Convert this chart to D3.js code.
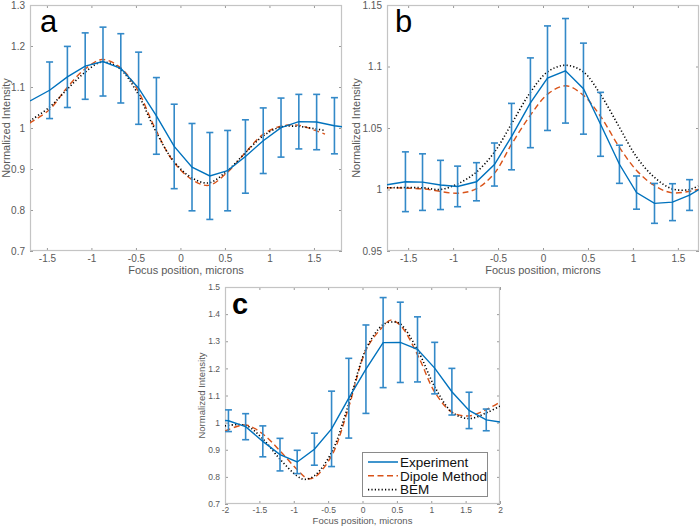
<!DOCTYPE html>
<html><head><meta charset="utf-8">
<script src="https://cdn.jsdelivr.net/npm/d3@7"></script>
<style>
body{margin:0;background:#fff;}
svg{display:block;font-family:"Liberation Sans",Arial,Helvetica,sans-serif;}
</style></head><body>
<svg id="chart" width="700" height="527"></svg>
<script>
// ---------- Panel a ----------
const aExpX   = [-1.69, -1.47, -1.27, -1.07, -0.87, -0.67, -0.47, -0.27, -0.07, 0.13, 0.33, 0.53, 0.73, 0.93, 1.13, 1.33, 1.53, 1.73, 1.815];
const aExpY   = [1.066, 1.092, 1.1245, 1.151, 1.162, 1.1455, 1.097, 1.0295, 0.955, 0.9045, 0.883, 0.896, 0.9305, 0.969, 1.001, 1.0155, 1.0145, 1.0055, 1.003];
const aExpErr = [null, 0.069, 0.0745, 0.081, 0.084, 0.0845, 0.088, 0.0935, 0.103, 0.1065, 0.106, 0.098, 0.0895, 0.08, 0.072, 0.0665, 0.0675, 0.0685, null];
const aDipX = [-1.694, -1.47, -1.283, -1.088, -0.882, -0.684, -0.49, -0.291, -0.089, 0.116, 0.315, 0.513, 0.719, 0.913, 1.119, 1.317, 1.512, 1.624];
const aDipY = [1.012, 1.045, 1.096, 1.141, 1.167, 1.149, 1.096, 1.002, 0.921, 0.876, 0.860, 0.889, 0.937, 0.982, 1.004, 1.007, 0.994, 0.985];
const aBemX = [-1.694, -1.47, -1.283, -1.088, -0.882, -0.684, -0.49, -0.291, -0.089, 0.116, 0.315, 0.513, 0.719, 0.913, 1.119, 1.317, 1.512, 1.624];
const aBemY = [1.017, 1.051, 1.092, 1.133, 1.161, 1.145, 1.088, 0.998, 0.923, 0.880, 0.866, 0.893, 0.937, 0.978, 1.002, 1.004, 0.998, 0.994];
const aXTicks = [-1.5, -1, -0.5, 0, 0.5, 1, 1.5];
const aYTicks = [0.7, 0.8, 0.9, 1.0, 1.1, 1.2, 1.3];

// ---------- Panel b ----------
const bExpX   = [-1.735, -1.53, -1.34, -1.14, -0.95, -0.74, -0.54, -0.35, -0.14, 0.05, 0.25, 0.45, 0.64, 0.85, 1.04, 1.24, 1.44, 1.63, 1.735];
const bExpY   = [1.0038, 1.0063, 1.006, 1.0037, 1.0025, 1.0063, 1.0203, 1.043, 1.0705, 1.0905, 1.0965, 1.082, 1.053, 1.0205, 0.9975, 0.9887, 0.9897, 0.9955, 1.0];
const bExpErr = [null, 0.0243, 0.023, 0.020, 0.0165, 0.0155, 0.0175, 0.027, 0.0365, 0.0425, 0.0425, 0.037, 0.026, 0.0155, 0.0135, 0.0162, 0.015, 0.0125, null];
const bDipX = [-1.737, -1.337, -0.948, -0.744, -0.544, -0.348, -0.144, 0.052, 0.252, 0.448, 0.644, 0.848, 1.041, 1.237, 1.437, 1.726];
const bDipY = [1.0014, 1.0005, 0.997, 1.0005, 1.0128, 1.037, 1.060, 1.0775, 1.0843, 1.0767, 1.059, 1.0345, 1.0155, 1.0033, 0.9973, 1.0];
const bBemX = [-1.737, -1.337, -1.144, -0.948, -0.744, -0.544, -0.348, -0.144, 0.052, 0.252, 0.448, 0.644, 0.848, 1.041, 1.237, 1.437, 1.633, 1.726];
const bBemY = [1.0014, 1.0014, 1.0, 1.0046, 1.014, 1.030, 1.0536, 1.0786, 1.0957, 1.101, 1.0957, 1.0767, 1.0508, 1.0264, 1.010, 1.0005, 1.0, 1.003];
const bXTicks = [-1.5, -1, -0.5, 0, 0.5, 1, 1.5];
const bYTicks = [0.95, 1.0, 1.05, 1.1, 1.15];

// ---------- Panel c ----------
const cExpX   = [-2.0, -1.95, -1.70, -1.45, -1.20, -0.95, -0.70, -0.45, -0.20, 0.05, 0.30, 0.55, 0.80, 1.05, 1.30, 1.55, 1.80, 2.0];
const cExpY   = [1.008, 1.007, 0.985, 0.931, 0.882, 0.855, 0.902, 0.977, 1.090, 1.197, 1.295, 1.296, 1.270, 1.201, 1.114, 1.045, 1.010, 1.002];
const cExpErr = [null, 0.040, 0.048, 0.057, 0.060, 0.043, 0.059, 0.139, 0.147, 0.163, 0.166, 0.148, 0.120, 0.095, 0.086, 0.067, 0.040, null];
const cDipX = [-2.0, -1.70, -1.445, -1.20, -0.955, -0.80, -0.70, -0.45, -0.21, 0.06, 0.305, 0.41, 0.56, 0.81, 1.057, 1.31, 1.556, 1.81, 2.0];
const cDipY = [0.969, 0.991, 0.957, 0.896, 0.828, 0.794, 0.798, 0.877, 1.049, 1.272, 1.356, 1.378, 1.356, 1.245, 1.110, 1.037, 1.025, 1.049, 1.076];
const cBemX = [-2.0, -1.70, -1.445, -1.20, -0.955, -0.85, -0.70, -0.45, -0.21, 0.06, 0.305, 0.46, 0.56, 0.81, 1.057, 1.31, 1.556, 1.81, 2.0];
const cBemY = [0.988, 0.990, 0.939, 0.865, 0.804, 0.791, 0.804, 0.890, 1.061, 1.276, 1.362, 1.371, 1.362, 1.264, 1.129, 1.037, 1.015, 1.037, 1.061];
const cXTicks = [-2, -1.5, -1, -0.5, 0, 0.5, 1, 1.5, 2];
const cYTicks = [0.7, 0.8, 0.9, 1.0, 1.1, 1.2, 1.3, 1.4, 1.5];

const legendLabels = ["Experiment", "Dipole Method", "BEM"];
const xLabel = "Focus position, microns";
const yLabel = "Normalized Intensity";

const COL_EXP = "#0072BD", COL_DIP = "#D95319", COL_BEM = "#000000";
const svg = d3.select("#chart");

function panel(o) {
  const x = d3.scaleLinear().domain(o.xDom).range([o.left, o.right]);
  const y = d3.scaleLinear().domain(o.yDom).range([o.bottom, o.top]);
  const g = svg.append("g");
  const cid = "clip" + o.name;
  svg.append("defs").append("clipPath").attr("id", cid)
    .append("rect").attr("x", o.left).attr("y", o.top)
    .attr("width", o.right - o.left).attr("height", o.bottom - o.top);

  const fmt = d => String(+d.toFixed(2));
  const styleAxis = (sel, labels) => {
    sel.select(".domain").remove();
    sel.selectAll(".tick line").attr("stroke", "#9a9a9a").attr("stroke-width", 1);
    sel.selectAll(".tick text").attr("fill", "#595959").attr("font-size", o.tickFont)
      .attr("font-family", "'Liberation Sans',Arial,sans-serif");
    if (!labels) sel.selectAll(".tick text").remove();
  };
  g.append("g").attr("transform", `translate(0,${o.bottom})`)
    .call(d3.axisBottom(x).tickValues(o.xTicks).tickSize(-3).tickPadding(o.xPad).tickFormat(fmt))
    .call(s => styleAxis(s, true));
  g.append("g").attr("transform", `translate(0,${o.top})`)
    .call(d3.axisTop(x).tickValues(o.xTicks).tickSize(-3).tickFormat(fmt))
    .call(s => styleAxis(s, false));
  g.append("g").attr("transform", `translate(${o.left},0)`)
    .call(d3.axisLeft(y).tickValues(o.yTicks).tickSize(-3).tickPadding(5).tickFormat(fmt))
    .call(s => styleAxis(s, true));
  g.append("g").attr("transform", `translate(${o.right},0)`)
    .call(d3.axisRight(y).tickValues(o.yTicks).tickSize(-3).tickFormat(fmt))
    .call(s => styleAxis(s, false));

  g.append("rect").attr("x", o.left + 0.5).attr("y", o.top + 0.5)
    .attr("width", o.right - o.left - 1).attr("height", o.bottom - o.top - 1)
    .attr("fill", "none").attr("stroke", "#c4c4c4").attr("stroke-width", 1.2);

  const plot = g.append("g").attr("clip-path", `url(#${cid})`);

  const smooth = d3.line().x(d => x(d[0])).y(d => y(d[1])).curve(d3.curveCatmullRom.alpha(0.5));
  plot.append("path").datum(d3.zip(o.dipX, o.dipY)).attr("d", smooth)
    .attr("fill", "none").attr("stroke", COL_DIP).attr("stroke-width", 1.4).attr("stroke-dasharray", "6,3.5");
  plot.append("path").datum(d3.zip(o.bemX, o.bemY)).attr("d", smooth)
    .attr("fill", "none").attr("stroke", COL_BEM).attr("stroke-width", 1.6).attr("stroke-dasharray", "1.2,2.2");

  // error bars
  const bars = d3.zip(o.expX, o.expY, o.expErr).filter(d => d[2] != null);
  const eb = plot.append("g").attr("stroke", "#3389c8").attr("stroke-width", 1.6).attr("fill", "none");
  const cap = 3.5;
  bars.forEach(d => {
    const xx = x(d[0]), y1 = y(d[1] + d[2]), y2 = y(d[1] - d[2]);
    eb.append("line").attr("x1", xx).attr("x2", xx).attr("y1", y1).attr("y2", y2);
    eb.append("line").attr("x1", xx - cap).attr("x2", xx + cap).attr("y1", y1).attr("y2", y1);
    eb.append("line").attr("x1", xx - cap).attr("x2", xx + cap).attr("y1", y2).attr("y2", y2);
  });
  plot.append("path").datum(d3.zip(o.expX, o.expY))
    .attr("d", d3.line().x(d => x(d[0])).y(d => y(d[1])))
    .attr("fill", "none").attr("stroke", COL_EXP).attr("stroke-width", 1.4);

  // labels
  g.append("text").attr("x", (o.left + o.right) / 2).attr("y", o.xLabY)
    .attr("text-anchor", "middle").attr("font-size", o.labFont).attr("fill", "#595959").text(xLabel);
  g.append("text").attr("transform", `translate(${o.yLabX},${(o.top + o.bottom) / 2}) rotate(-90)`)
    .attr("text-anchor", "middle").attr("font-size", o.yLabFont).attr("fill", "#595959").text(yLabel);
  g.append("text").attr("x", o.letterX).attr("y", o.letterY)
    .attr("font-size", o.letterSize).attr("font-weight", o.letterWeight).attr("fill", "#000").text(o.name);
  return {g, x, y};
}

panel({name: "a", left: 30, right: 342, top: 5, bottom: 251, xDom: [-1.69, 1.815], yDom: [0.7, 1.3],
  xTicks: aXTicks, yTicks: aYTicks, expX: aExpX, expY: aExpY, expErr: aExpErr,
  dipX: aDipX, dipY: aDipY, bemX: aBemX, bemY: aBemY, tickFont: "10px", labFont: "11px", yLabFont: "11px", xPad: 4,
  xLabY: 274, yLabX: 10, letterX: 40, letterY: 32, letterSize: "31px", letterWeight: "normal"});

panel({name: "b", left: 387, right: 699, top: 5, bottom: 251, xDom: [-1.735, 1.735], yDom: [0.95, 1.15],
  xTicks: bXTicks, yTicks: bYTicks, expX: bExpX, expY: bExpY, expErr: bExpErr,
  dipX: bDipX, dipY: bDipY, bemX: bBemX, bemY: bBemY, tickFont: "10px", labFont: "11px", yLabFont: "11px", xPad: 4,
  xLabY: 274, yLabX: 360, letterX: 395, letterY: 32, letterSize: "31px", letterWeight: "normal"});

const pc = panel({name: "c", left: 225, right: 500, top: 287, bottom: 504, xDom: [-2, 2], yDom: [0.7, 1.5],
  xTicks: cXTicks, yTicks: cYTicks, expX: cExpX, expY: cExpY, expErr: cExpErr,
  dipX: cDipX, dipY: cDipY, bemX: cBemX, bemY: cBemY, tickFont: "8.5px", labFont: "9.5px", yLabFont: "9.5px", xPad: 2.5,
  xLabY: 524, yLabX: 205, letterX: 232, letterY: 314, letterSize: "29px", letterWeight: "bold"});

// legend (panel c)
const lg = pc.g.append("g");
lg.append("rect").attr("x", 362.5).attr("y", 452.5).attr("width", 125).attr("height", 44)
  .attr("fill", "#fff").attr("stroke", "#8a8a8a").attr("stroke-width", 1);
const lstyles = [
  {c: COL_EXP, w: 1.5, dash: null},
  {c: COL_DIP, w: 1.5, dash: "6,3.5"},
  {c: COL_BEM, w: 1.7, dash: "1.2,2.2"}
];
legendLabels.forEach((t, i) => {
  const yy = 462 + i * 13.8;
  lg.append("line").attr("x1", 368).attr("x2", 398).attr("y1", yy).attr("y2", yy)
    .attr("stroke", lstyles[i].c).attr("stroke-width", lstyles[i].w)
    .attr("stroke-dasharray", lstyles[i].dash);
  lg.append("text").attr("x", 400).attr("y", yy + 4.8).attr("font-size", "13.5px").attr("fill", "#111").text(t);
});
</script>
</body></html>
